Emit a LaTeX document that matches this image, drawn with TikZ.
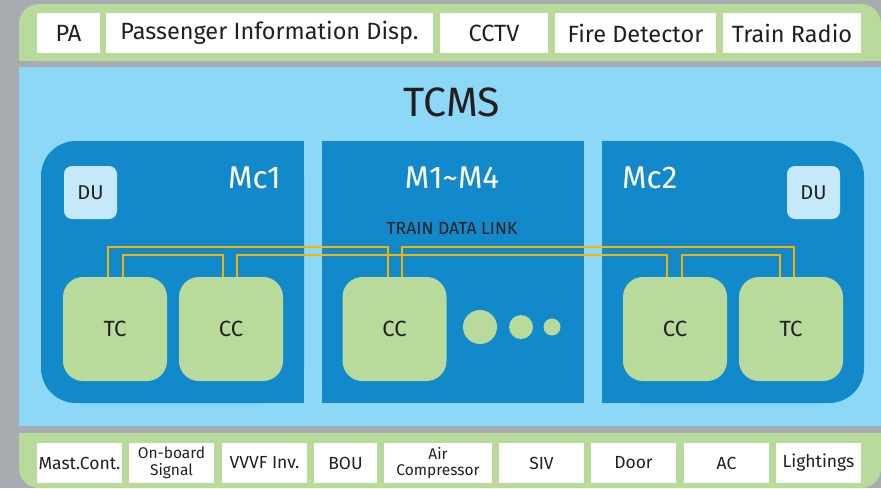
\documentclass[tikz,border=0pt]{standalone}
\usepackage{fontspec}
\setmainfont{Fira Sans}
\usetikzlibrary{calc}
\definecolor{bgGrey}{HTML}{A7ACB1}
\definecolor{bandGreen}{HTML}{B8DB9C}
\definecolor{skyBlue}{HTML}{8ED8F7}
\definecolor{deepBlue}{HTML}{1289CA}
\definecolor{duBlue}{HTML}{C6E9F9}
\definecolor{linkYellow}{HTML}{F5B400}
\definecolor{inkBlack}{HTML}{231F20}
\begin{document}
\begin{tikzpicture}[x=1pt,y=-1pt,
  wbox/.style={fill=white, inner sep=0pt, minimum height=40, text=inkBlack, align=center},
  toplbl/.style={wbox, font=\fontsize{23.5}{23.5}\selectfont},
  botlbl/.style={wbox, font=\fontsize{17.5}{17.5}\selectfont},
  twolbl/.style={wbox, font=\fontsize{15.5}{16.5}\selectfont},
  unitbox/.style={fill=bandGreen, rounded corners=20, minimum width=104, minimum height=104, inner sep=0pt, text=inkBlack, font=\fontsize{22}{22}\selectfont},
  dubox/.style={fill=duBlue, rounded corners=8, minimum width=53, minimum height=53, inner sep=0pt, text=inkBlack, font=\fontsize{20}{20}\selectfont},
  carlbl/.style={text=white, inner sep=0pt, font=\fontsize{31.5}{31.5}\selectfont},
  link/.style={draw=linkYellow, line width=1.5pt},
  dot/.style={circle, fill=bandGreen, inner sep=0pt}
]
\useasboundingbox (0,0) rectangle (881,488);
\fill[bgGrey] (0,0) rectangle (881,488);
% top band
\fill[bandGreen, rounded corners=20] (19,4) rectangle (881,61);
\fill[bandGreen] (19,30) rectangle (881,61);
% TCMS area
\fill[skyBlue] (19,67) rectangle (881,426);
% bottom band
\fill[bandGreen, rounded corners=20] (19,433) rectangle (881,488);
\fill[bandGreen] (19,433) rectangle (881,460);

% car panels
\fill[deepBlue, rounded corners=35] (41,141) rectangle (304,403);
\fill[deepBlue] (200,141) rectangle (304,403);
\fill[deepBlue] (322,141) rectangle (584,403);
\fill[deepBlue, rounded corners=35] (602,141) rectangle (864,403);
\fill[deepBlue] (602,141) rectangle (700,403);

% top labels
\node[toplbl, minimum width=63] (pa) at (68.5,33) {PA};
\node[toplbl, minimum width=327] (pid) at (269.5,33) {Passenger Information Disp.};
\node[toplbl, minimum width=108] (cctv) at (494,33) {CCTV};
\node[toplbl, minimum width=161] (fire) at (635.5,33) {Fire Detector};
\node[toplbl, minimum width=138] (radio) at (792,33) {Train Radio};

% title
\node[text=inkBlack, inner sep=0pt, font=\fontsize{41}{41}\selectfont] (tcms) at (452,102) {TCMS};

% car labels
\node[carlbl, anchor=east] (mc1) at (281,178) {Mc1};
\node[carlbl] (mm) at (452,178) {M1\textasciitilde M4};
\node[carlbl, anchor=west] (mc2) at (622,178) {Mc2};

\node[dubox] (du1) at (90.5,192.5) {DU};
\node[dubox] (du2) at (813.5,192.5) {DU};

\node[text=inkBlack, inner sep=0pt, font=\fontsize{17.5}{17.5}\selectfont] (tdl) at (452,228) {TRAIN DATA LINK};

% units
\node[unitbox] (tc1) at (115,329) {TC};
\node[unitbox] (cc1) at (231,329) {CC};
\node[unitbox] (mcc) at (394.5,329) {CC};
\node[unitbox] (cc2) at (675,329) {CC};
\node[unitbox] (tc2) at (791,329) {TC};

\node[dot, minimum size=34] (d1) at (480,327) {};
\node[dot, minimum size=24] (d2) at (521,327) {};
\node[dot, minimum size=17] (d3) at (552,327) {};

% train data link
\draw[link] ([xshift=-7]tc1.north) -- ++(0,-30) -| ([xshift=-6.5]mcc.north);
\draw[link] ([xshift=7.5]mcc.north) -- ++(0,-30) -| ([xshift=3]tc2.north);
\draw[link] ([xshift=8]tc1.north) -- ++(0,-22) -| ([xshift=-8]cc1.north);
\draw[link] ([xshift=6]cc1.north) -- ++(0,-22) -| ([xshift=-8]cc2.north);
\draw[link] ([xshift=7]cc2.north) -- ++(0,-22) -| ([xshift=-11]tc2.north);

% bottom labels
\node[botlbl, minimum width=85] (mast) at (79.5,463) {Mast.Cont.};
\node[twolbl, minimum width=85] (obs) at (171.5,463) {On-board\\Signal};
\node[botlbl, minimum width=85] (vvvf) at (264.5,463) {VVVF Inv.};
\node[botlbl, minimum width=63] (bou) at (345.5,463) {BOU};
\node[twolbl, minimum width=108] (air) at (438,463) {Air\\Compressor};
\node[botlbl, minimum width=85] (siv) at (541.5,463) {SIV};
\node[botlbl, minimum width=85] (door) at (633.5,463) {Door};
\node[botlbl, minimum width=85] (ac) at (726.5,463) {AC};
\node[botlbl, minimum width=85] (light) at (818.5,463) {Lightings};
\end{tikzpicture}
\end{document}
